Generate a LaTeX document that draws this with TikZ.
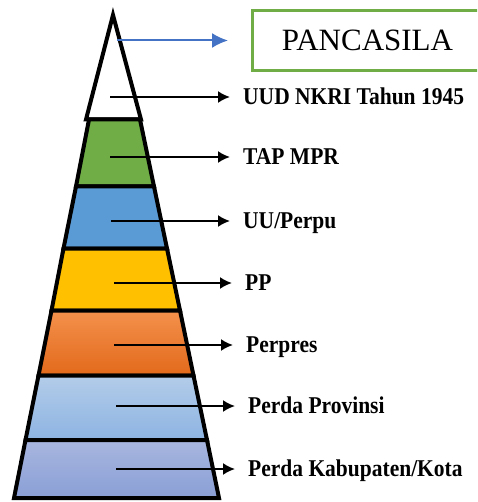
\documentclass[tikz,border=0pt]{standalone}
\usepackage{fontspec}
\setmainfont{Liberation Serif}
\usetikzlibrary{arrows.meta}
\definecolor{boxgreen}{HTML}{70AD47}
\definecolor{arrowblue}{HTML}{4472C4}
\definecolor{tapgreen}{HTML}{70AD47}
\definecolor{uublue}{HTML}{5B9BD5}
\definecolor{ppyellow}{HTML}{FFC000}
\definecolor{orangetop}{HTML}{F4914C}
\definecolor{orangebot}{HTML}{E2691B}
\definecolor{provtop}{HTML}{B3CCE9}
\definecolor{provbot}{HTML}{8DB4E2}
\definecolor{kabtop}{HTML}{A8B6DF}
\definecolor{kabbot}{HTML}{8A9FD6}

\begin{document}
\begin{tikzpicture}[x=1pt,y=-1pt]
\tikzset{>={Latex[width=12pt,length=12pt]}}
\tikzstyle{layer}=[draw=black,line width=4pt,line join=miter]
\tikzstyle{lbl}=[anchor=west,inner xsep=13pt,inner ysep=0pt,text height=15pt,text depth=1pt,yscale=1.12,font=\fontsize{21.5}{25}\selectfont\bfseries]
\tikzstyle{pointer}=[->,line width=2pt]

\clip (0,0) rectangle (477,502);
\fill[white] (0,0) rectangle (477,502);

% pyramid
\draw[layer,fill=white] (113,15) -- (141,119.5) -- (86,119.5) -- cycle;
\draw[layer,fill=tapgreen] (89,119.5) -- (140,119.5) -- (154,186.5) -- (76,186.5) -- cycle;
\draw[layer,fill=uublue] (76,186.5) -- (154,186.5) -- (167,248.5) -- (63.5,248.5) -- cycle;
\draw[layer,fill=ppyellow] (63.5,248.5) -- (167,248.5) -- (180,310.5) -- (51.5,310.5) -- cycle;
\draw[layer,top color=orangetop,bottom color=orangebot] (51.5,310.5) -- (180,310.5) -- (193.5,375.5) -- (38.5,375.5) -- cycle;
\draw[layer,top color=provtop,bottom color=provbot] (38.5,375.5) -- (193.5,375.5) -- (207,440) -- (25.5,440) -- cycle;
\draw[layer,top color=kabtop,bottom color=kabbot] (25.5,440) -- (207,440) -- (219,498) -- (14,498) -- cycle;

% pancasila
\coordinate (s0) at (117,40.5);
\node[draw=boxgreen,line width=3pt,minimum width=230pt,minimum height=59.5pt,anchor=west,font=\fontsize{31}{36}\selectfont] (pancasila) at (251,40.5) {PANCASILA};
\draw[->,line width=2pt,arrowblue,>={Latex[width=15pt,length=16pt]},shorten >=23pt] (s0) -- (pancasila);

% levels
\coordinate (s1) at (110,97);
\node[lbl] (l1) at (230,97) {UUD NKRI Tahun 1945};
\draw[pointer] (s1) -- (l1);

\coordinate (s2) at (110,157);
\node[lbl] (l2) at (230,157) {TAP MPR};
\draw[pointer] (s2) -- (l2);

\coordinate (s3) at (111,221);
\node[lbl] (l3) at (230,221) {UU/Perpu};
\draw[pointer] (s3) -- (l3);

\coordinate (s4) at (114,283);
\node[lbl] (l4) at (232,283) {PP};
\draw[pointer] (s4) -- (l4);

\coordinate (s5) at (114,345);
\node[lbl] (l5) at (233,345) {Perpres};
\draw[pointer] (s5) -- (l5);

\coordinate (s6) at (116,406);
\node[lbl] (l6) at (235,406) {Perda Provinsi};
\draw[pointer] (s6) -- (l6);

\coordinate (s7) at (116,469);
\node[lbl] (l7) at (235,469) {Perda Kabupaten/Kota};
\draw[pointer] (s7) -- (l7);
\end{tikzpicture}
\end{document}
